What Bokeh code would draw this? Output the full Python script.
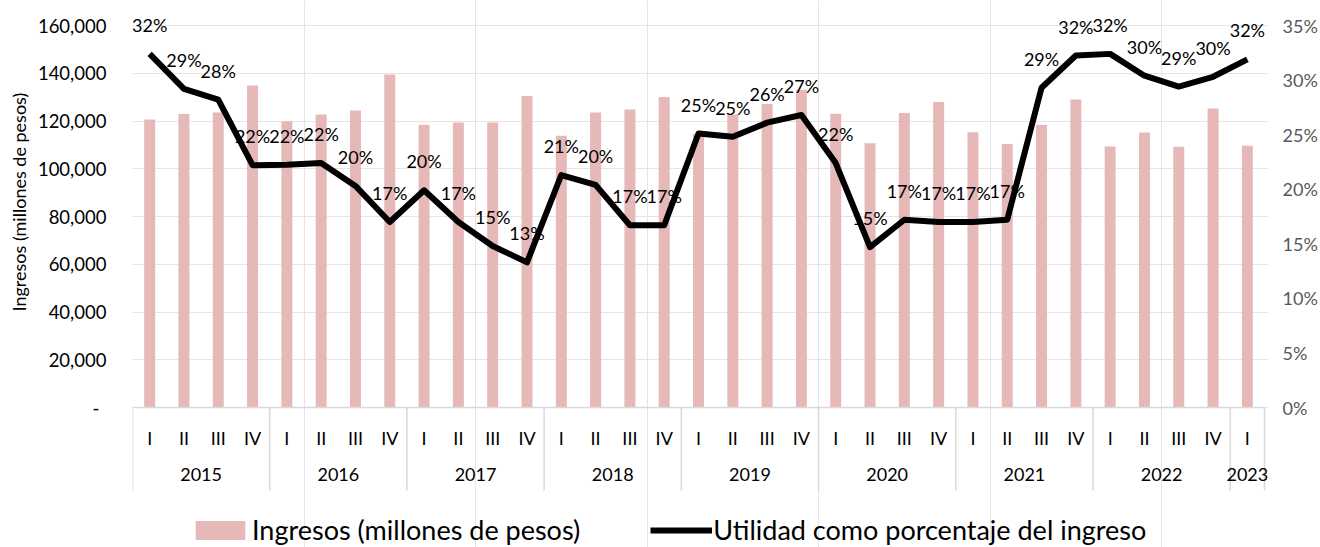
import math
from bokeh.plotting import figure
from bokeh.models import (Range1d, LinearAxis, FixedTicker, NumeralTickFormatter,
                          PrintfTickFormatter, ColumnDataSource, Legend, LegendItem, Title)
from bokeh.core.properties import value
from bokeh.embed import file_html
from bokeh.resources import INLINE

# ---------------- data ----------------
years = ["2015", "2016", "2017", "2018", "2019", "2020", "2021", "2022", "2023"]
quarters_per_year = [4, 4, 4, 4, 4, 4, 4, 4, 1]
quarter_names = ["I", "II", "III", "IV"]

ingresos = [120600, 122900, 123600, 134900,
            119900, 122700, 124400, 139500,
            118400, 119400, 119400, 130500,
            113800, 123600, 124800, 130100,
            114600, 122700, 127100, 133100,
            123000, 110700, 123400, 128000,
            115300, 110400, 118400, 129000,
            109300, 115200, 109200, 125200,
            109600]

utilidad_pct = [32.4, 29.2, 28.2, 22.2,
                22.25, 22.4, 20.3, 17.0,
                19.9, 17.0, 14.8, 13.3,
                21.3, 20.4, 16.7, 16.7,
                25.1, 24.8, 26.1, 26.8,
                22.4, 14.7, 17.2, 17.0,
                17.0, 17.2, 29.3, 32.25,
                32.4, 30.4, 29.4, 30.3,
                31.9]

left_ticks = [0, 20000, 40000, 60000, 80000, 100000, 120000, 140000, 160000]
right_ticks = [0, 5, 10, 15, 20, 25, 30, 35]

serie_ingresos = "Ingresos (millones de pesos)"
serie_utilidad = "Utilidad como porcentaje del ingreso"

# ---------------- layout constants ----------------
W, H = 1320, 547
ZERO_PX = 407            # canvas y of value 0
PX_PER_UNIT = 382 / 160000
y_end = ZERO_PX / PX_PER_UNIT
y_start = -(H - ZERO_PX) / PX_PER_UNIT
ratio = right_ticks[-1] / left_ticks[-1]

n = len(ingresos)
QUARTER_PX = (1265 - 130) / n
x_end = n + 4 / QUARTER_PX          # a few px of room so the last year label is not cut

xs = [i + 0.5 for i in range(n)]
qlabels = []
for cnt in quarters_per_year:
    qlabels += quarter_names[:cnt]
bounds_x = [0]
for cnt in quarters_per_year:
    bounds_x.append(bounds_x[-1] + cnt)
year_x = [(bounds_x[i] + bounds_x[i + 1]) / 2 for i in range(len(years))]

FONT = "Lato"

p = figure(width=W, height=H, x_range=Range1d(0, x_end), y_range=Range1d(y_start, y_end),
           output_backend="svg", toolbar_location=None,
           x_axis_location=None, y_axis_location=None,
           min_border_left=130, min_border_right=51, min_border_top=0, min_border_bottom=0)
p.extra_y_ranges = {"pct": Range1d(y_start * ratio, y_end * ratio)}
p.outline_line_color = None
p.background_fill_color = "white"
p.border_fill_color = "white"

# left axis
left = LinearAxis(ticker=FixedTicker(ticks=left_ticks),
                  formatter=NumeralTickFormatter(format="0,0"),
                  bounds=(left_ticks[0], left_ticks[-1]))
left.major_label_overrides = {0: "-\u00a0\u2009"}
left.axis_line_color = None
left.major_tick_line_color = None
left.minor_tick_line_color = None
left.major_tick_out = 0
left.major_tick_in = 0
left.minor_tick_out = 0
left.major_label_standoff = 26
left.major_label_text_font = FONT
left.major_label_text_font_size = "18.5px"
left.major_label_text_color = "#000000"
p.add_layout(left, "left")

# left axis title (as a side-panel title so that it can sit beside the value axis)
p.add_layout(Title(text=serie_ingresos, align="left", offset=236,
                   text_font=FONT, text_font_size="18px", text_font_style="normal",
                   text_color="#000000"), "left")

# right axis
right = LinearAxis(y_range_name="pct", ticker=FixedTicker(ticks=right_ticks),
                   formatter=PrintfTickFormatter(format="%d%%"),
                   bounds=(right_ticks[0], right_ticks[-1]))
right.axis_line_color = None
right.major_tick_line_color = None
right.minor_tick_line_color = None
right.major_tick_out = 0
right.major_tick_in = 0
right.minor_tick_out = 0
right.major_label_standoff = 14
right.major_label_text_font = FONT
right.major_label_text_font_size = "18px"
right.major_label_text_color = "#595959"
p.add_layout(right, "right")

src = ColumnDataSource(dict(x=xs, ingresos=ingresos, pct=utilidad_pct,
                            label=[f"{round(v)}%" for v in utilidad_pct],
                            q=qlabels, zero=[0] * n))
ysrc = ColumnDataSource(dict(x=year_x, year=years, zero=[0] * len(years)))

bars = p.vbar(x="x", top="ingresos", bottom=0, width=0.32, source=src,
              fill_color="#E6B8B7", line_color=None)

# category axis (drawn in the frame)
p.segment(x0=[bounds_x[0]], x1=[bounds_x[-1]], y0=[0], y1=[0],
          line_color="#d9d9d9", line_width=1.5)
p.ray(x=bounds_x, y=0, length=83, length_units="screen", angle=-math.pi / 2,
      line_color="#d9d9d9", line_width=1.5)
p.text(x="x", y="zero", text="q", source=src, text_font=value(FONT), text_font_size=value("18px"),
       text_align="center", text_baseline="middle", y_offset=30, text_color="#000000")
p.text(x="x", y="zero", text="year", source=ysrc, text_font=value(FONT),
       text_font_size=value("18px"), text_align="center", text_baseline="middle",
       y_offset=67, text_color="#000000")

line = p.line(x="x", y="pct", source=src, y_range_name="pct", line_color="#000000",
              line_width=6, line_join="round")
p.text(x="x", y="pct", text="label", source=src, y_range_name="pct",
       text_font=value(FONT), text_font_size=value("18px"), text_align="center",
       text_baseline="middle", y_offset=-29, text_color="#000000")

legend = Legend(items=[LegendItem(label=serie_ingresos, renderers=[bars]),
                       LegendItem(label=serie_utilidad, renderers=[line])],
                orientation="horizontal", location=(57, 1),
                padding=0, margin=0, border_line_color=None, background_fill_alpha=0,
                glyph_width=62, glyph_height=24, label_standoff=1, spacing=70,
                label_text_font=FONT, label_text_font_size="27px",
                label_text_color="#000000", label_text_baseline="middle")
p.add_layout(legend)

open("out.html", "w").write(file_html(p, INLINE))
